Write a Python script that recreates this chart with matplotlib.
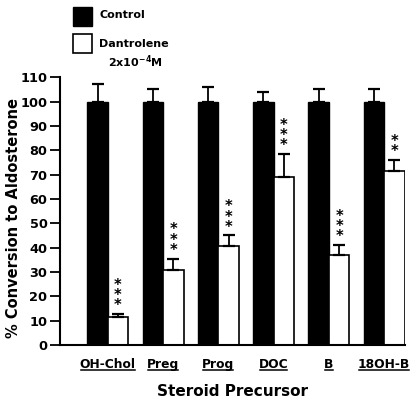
import numpy as np
import matplotlib
matplotlib.use("Agg")
from matplotlib import pyplot as plt
from matplotlib.patches import Rectangle
from matplotlib.lines import Line2D

plt.rcParams['font.family'] = ['DejaVu Sans']
plt.rcParams['font.weight'] = 'bold'
plt.rcParams['mathtext.default'] = 'bf'

# data
precursors = ["OH-Chol", "Preg", "Prog", "DOC", "B", "18OH-B"]
control = [100, 100, 100, 100, 100, 100]
control_err = [7, 5, 6, 4, 5, 5]
dantrolene = [11.5, 31, 40.5, 69, 37, 71.5]
dantrolene_err = [1.3, 4.5, 4.5, 9.5, 4, 4.5]
signif = ["***", "***", "***", "***", "***", "**"]

fig = plt.figure(figsize=(4.13, 4.04), dpi=100)
ax = fig.add_axes([0.145, 0.146, 0.836, 0.663])

x = np.arange(len(precursors))
w = 0.37
ax.bar(x - w/2, control, w, color='black', edgecolor='black', linewidth=1)
ax.bar(x + w/2, dantrolene, w, color='white', edgecolor='black', linewidth=1.2)
ax.errorbar(x - w/2, control, yerr=[np.zeros(6), control_err], fmt='none',
            ecolor='black', elinewidth=1.3, capsize=4, capthick=1.6)
ax.errorbar(x + w/2, dantrolene, yerr=[np.zeros(6), dantrolene_err], fmt='none',
            ecolor='black', elinewidth=1.3, capsize=4, capthick=1.6)

# significance stars stacked vertically
for xi, v, e, s in zip(x, dantrolene, dantrolene_err, signif):
    ax.text(xi + w/2, v + e + 0.3, "\n".join(s), ha='center', va='bottom',
            fontsize=10.5, linespacing=0.6, fontweight='heavy')

ax.set_xlim(-0.867, 5.38)
ax.set_ylim(0, 110)
ax.set_yticks(np.arange(0, 111, 10))
ax.set_xticks([])
ax.spines['top'].set_visible(False)
ax.spines['right'].set_visible(False)
ax.spines['left'].set_linewidth(1.5)
ax.spines['bottom'].set_linewidth(1.5)
ax.tick_params(axis='y', direction='out', length=7, width=1.3, labelsize=9.3, pad=2)
for lab in ax.get_yticklabels():
    lab.set_fontweight('bold')

ax.set_ylabel("% Conversion to Aldosterone", fontsize=10.5, fontweight='bold')
ax.yaxis.set_label_coords(-0.112, 0.475)
fig.text(0.562, 0.03, "Steroid Precursor", ha='center', va='center',
         fontsize=11, fontweight='bold')

# underlined category labels
labels = []
for xi, name in zip(x, precursors):
    t = ax.text(xi, -8.0, name, ha='center', va='center', fontsize=8.8,
                fontweight='bold', transform=ax.transData, clip_on=False)
    labels.append(t)
fig.canvas.draw()
r = fig.canvas.get_renderer()
inv = fig.transFigure.inverted()
for t in labels:
    bb = t.get_window_extent(r)
    (x0, y0), (x1, _) = inv.transform([(bb.x0 + 1, bb.y0), (bb.x1 - 1, bb.y0)])
    fig.add_artist(Line2D([x0, x1], [y0 + 0.002, y0 + 0.002], color='black',
                          linewidth=1.1, transform=fig.transFigure))

# legend drawn by hand
W, H = 413, 404
fig.add_artist(Rectangle((73 / W, 1 - 26 / H), 19 / W, 19 / H, facecolor='black',
                         edgecolor='black', transform=fig.transFigure))
fig.add_artist(Rectangle((73 / W, 1 - 53 / H), 19 / W, 19 / H, facecolor='white',
                         edgecolor='black', linewidth=1.2, transform=fig.transFigure))
fig.text(100 / W, 1 - 15 / H, "Control", ha='left', va='center', fontsize=8,
         fontweight='bold')
fig.text(99 / W, 1 - 44 / H, "Dantrolene", ha='left', va='center', fontsize=8,
         fontweight='bold')
fig.text(108 / W, 1 - 62 / H, r"2x10$^{-4}$M", ha='left', va='center',
         fontsize=8, fontweight='bold')

fig.savefig("out.png", dpi=100)
